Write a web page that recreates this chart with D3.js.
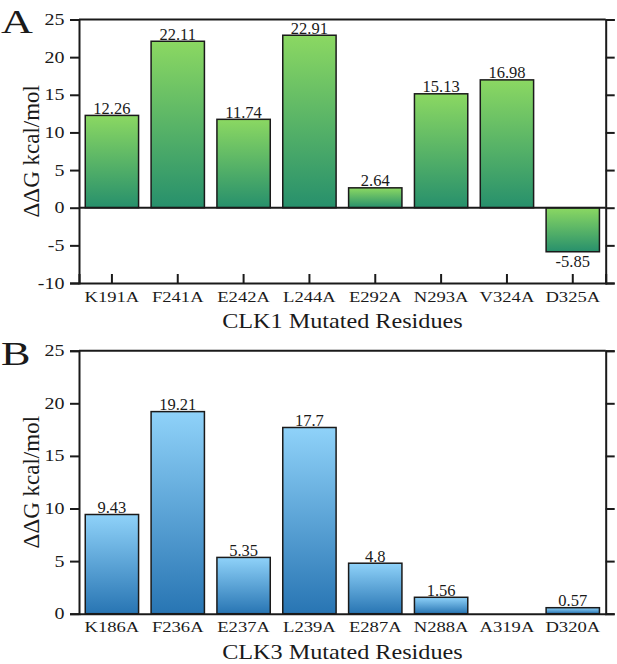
<!DOCTYPE html>
<html lang="en">
  <head>
    <meta charset="UTF-8" />
    <title>CLK mutations</title>
    <script src="https://d3js.org/d3.v7.min.js"></script>
    <style>
      body {
        margin: 0;
        background: #fff;
      }
      text {
        font-family: "Liberation Serif", "Times New Roman", serif;
        fill: #1a1a1a;
      }
    </style>
  </head>
  <body></body>
  <script>
    // values
    const clk1Residues = ["K191A", "F241A", "E242A", "L244A", "E292A", "N293A", "V324A", "D325A"];
    const clk1Values = [12.26, 22.11, 11.74, 22.91, 2.64, 15.13, 16.98, -5.85];
    const clk1Ticks = [-10, -5, 0, 5, 10, 15, 20, 25];

    const clk3Residues = ["K186A", "F236A", "E237A", "L239A", "E287A", "N288A", "A319A", "D320A"];
    const clk3Values = [9.43, 19.21, 5.35, 17.7, 4.8, 1.56, null, 0.57];
    const clk3Ticks = [0, 5, 10, 15, 20, 25];

    const svg = d3.select("body").append("svg").attr("width", 617).attr("height", 664);

    const defs = svg.append("defs");
    function gradient(id, top, bottom) {
      const g = defs.append("linearGradient").attr("id", id)
        .attr("x1", 0).attr("y1", 0).attr("x2", 0).attr("y2", 1);
      g.append("stop").attr("offset", "0%").attr("stop-color", top);
      g.append("stop").attr("offset", "100%").attr("stop-color", bottom);
    }
    gradient("green", "#8bd862", "#27906c");
    gradient("blue", "#8fd2f9", "#2875b3");

    // text slightly wider than plain Times, like the source image
    function stretched(sel, x, y, sx) {
      return sel.attr("transform", `translate(${x},${y}) scale(${sx},1)`);
    }

    function drawPanel(opt) {
      const x = d3.scaleBand().domain(opt.residues)
        .range([79, 605.7]).paddingInner(0.19).paddingOuter(0.095);
      const y = d3.scaleLinear().domain(d3.extent(opt.ticks)).range([opt.bottom, opt.top]);
      const g = svg.append("g");

      const data = opt.residues.map((r, i) => ({ name: r, value: opt.values[i] }));

      // bars
      g.selectAll("rect.bar")
        .data(data.filter((d) => d.value !== null))
        .enter()
        .append("rect")
        .attr("class", "bar")
        .attr("x", (d) => x(d.name))
        .attr("width", x.bandwidth())
        .attr("y", (d) => y(Math.max(0, d.value)))
        .attr("height", (d) => Math.abs(y(d.value) - y(0)))
        .attr("fill", `url(#${opt.fill})`)
        .attr("stroke", "#1a1a1a")
        .attr("stroke-width", 1.5);

      // value labels
      g.selectAll("text.val")
        .data(data.filter((d) => d.value !== null))
        .enter()
        .append("text")
        .attr("class", "val")
        .attr("text-anchor", "middle")
        .attr("font-size", 16.5)
        .attr("x", (d) => x(d.name) + x.bandwidth() / 2)
        .attr("y", (d) => (d.value >= 0 ? y(d.value) - 1.5 : y(d.value) + 15))
        .text((d) => d.value);

      if (opt.zeroLine) {
        g.append("line")
          .attr("x1", 79).attr("x2", 605.7)
          .attr("y1", y(0)).attr("y2", y(0))
          .attr("stroke", "#1a1a1a").attr("stroke-width", 2);
      }

      // frame + axes
      const left = d3.axisLeft(y).tickValues(opt.ticks).tickSize(9).tickFormat("");
      const right = d3.axisRight(y).tickValues(opt.ticks).tickSize(9).tickFormat("");
      const bottom = d3.axisBottom(x).tickSize(opt.xTicks ? -9 : 0).tickFormat("");

      g.append("g").attr("transform", "translate(79,0)").call(left);
      g.append("g").attr("transform", "translate(605.7,0)").call(right);
      g.append("g").attr("transform", `translate(0,${opt.bottom})`).call(bottom);
      g.append("line")
        .attr("x1", 79).attr("x2", 605.7)
        .attr("y1", opt.top).attr("y2", opt.top)
        .attr("stroke", "#1a1a1a").attr("stroke-width", 2);
      g.selectAll(".domain").attr("stroke", "#1a1a1a").attr("stroke-width", 2);
      g.selectAll(".tick line").attr("stroke", "#1a1a1a").attr("stroke-width", 2);

      // y tick labels
      opt.ticks.forEach((t) => {
        stretched(g.append("text"), 64.5, y(t) + 5.5, 1.25)
          .attr("text-anchor", "end")
          .attr("font-size", 16)
          .text(t);
      });

      // x tick labels
      opt.residues.forEach((r) => {
        stretched(g.append("text"), x(r) + x.bandwidth() / 2, opt.bottom + 18.5, 1.2)
          .attr("text-anchor", "middle")
          .attr("font-size", 15.5)
          .text(r);
      });

      // axis titles
      stretched(g.append("text"), 342.4, opt.bottom + 45, 1.1)
        .attr("text-anchor", "middle")
        .attr("font-size", 22)
        .text(opt.title);

      g.append("text")
        .attr("transform", `translate(39,${(opt.top + opt.bottom) / 2}) rotate(-90)`)
        .attr("text-anchor", "middle")
        .attr("font-size", 23)
        .text("ΔΔG kcal/mol");

      stretched(g.append("text"), 1, opt.letterY, 1.3)
        .attr("font-size", 34)
        .text(opt.letter);
    }

    drawPanel({
      residues: clk1Residues, values: clk1Values, ticks: clk1Ticks,
      top: 19.5, bottom: 283, fill: "green", zeroLine: true, xTicks: true,
      title: "CLK1 Mutated Residues", letter: "A", letterY: 33,
    });

    drawPanel({
      residues: clk3Residues, values: clk3Values, ticks: clk3Ticks,
      top: 350.7, bottom: 613.7, fill: "blue", zeroLine: false, xTicks: false,
      title: "CLK3 Mutated Residues", letter: "B", letterY: 365,
    });
  </script>
</html>
